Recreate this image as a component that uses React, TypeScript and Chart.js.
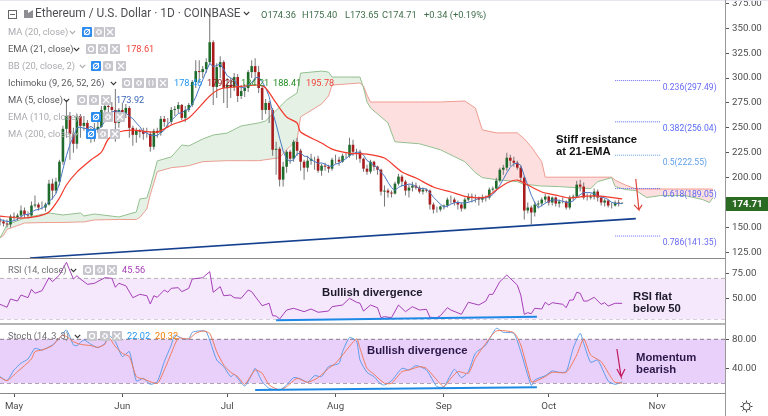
import React, { useEffect, useRef } from "react";
import { Chart, registerables } from "chart.js";

Chart.register(...registerables);

// ---------- data ----------
const firstDay = -4; // day 0 = May 1
const opens = [157,156,154,153,161,160,162,167,163,162,172,173,170,170,173,194,187,196,216,249,262,244,234,262,252,255,244,245,248,251,268,272,271,268,255,268,265,270,250,243,247,246,244,244,231,247,245,259,256,256,268,269,273,260,268,273,296,307,306,309,316,336,291,311,316,290,293,291,301,282,287,290,306,312,306,290,268,275,268,228,229,198,211,226,219,236,227,216,210,217,219,219,207,212,211,209,218,218,216,222,222,233,226,226,219,209,206,216,211,208,186,187,185,184,194,201,196,187,190,192,190,186,188,187,173,168,168,171,172,178,178,175,173,169,178,181,180,180,178,180,180,188,189,197,208,210,220,217,215,210,200,167,170,165,173,174,178,181,175,180,174,176,176,170,180,181,193,191,180,180,181,186,180,175,177,172,172,175,174.36];
const highs = [160,158,158,163,165,164,172,170,166,176,182,175,176,175,198,199,200,218,252,278,266,250,264,264,262,258,250,255,256,272,275,278,276,289,270,275,274,272,252,250,249,250,250,246,249,250,262,262,260,271,272,276,274,272,275,298,318,318,312,320,364,338,315,322,318,300,300,305,304,293,294,308,318,320,312,292,279,277,270,236,231,216,228,228,238,240,229,218,222,224,221,222,214,215,213,220,223,221,224,225,240,238,229,228,220,213,218,217,212,209,192,189,187,196,204,203,198,193,196,195,192,190,189,188,175,171,172,173,180,182,180,177,175,180,184,184,183,181,183,182,190,191,200,210,213,225,223,221,217,212,202,175,172,176,177,180,184,182,181,181,178,180,177,182,183,197,198,195,184,184,189,188,181,179,178,175,177,178,175.4];
const lows = [152,151,150,150,157,157,160,160,159,161,170,167,168,166,172,178,184,192,213,240,218,225,229,240,247,240,235,236,245,250,262,265,262,236,250,262,260,240,232,235,240,238,240,226,228,240,242,251,250,253,262,265,258,256,266,271,290,295,300,305,313,273,280,300,275,270,280,287,276,279,281,286,300,298,285,258,264,255,222,203,191,191,205,214,216,222,207,198,206,213,208,205,202,207,205,207,214,212,215,219,220,222,218,215,206,203,204,207,203,182,171,180,180,183,192,191,182,180,186,188,184,183,185,168,164,165,166,168,170,174,172,168,166,168,176,175,175,172,175,176,178,186,188,195,203,207,212,211,208,196,158,164,153,161,169,171,175,172,172,171,170,174,168,168,177,180,186,178,177,178,178,176,172,171,170,169,171,171,173.65];
const closes = [156,154,153,161,160,162,167,163,162,172,173,170,170,173,194,187,196,216,249,262,244,234,262,252,255,244,245,248,251,268,272,271,268,255,268,265,270,250,243,247,246,244,244,231,247,245,259,256,256,268,269,273,260,268,273,296,307,306,309,316,336,291,311,316,290,293,291,301,282,287,290,306,312,306,290,268,275,268,228,229,198,211,226,219,236,227,216,210,217,219,219,207,212,211,209,218,218,216,222,222,233,226,226,219,209,206,216,211,208,186,187,185,184,194,201,196,187,190,192,190,186,188,187,173,168,168,171,172,178,178,175,173,169,178,181,180,180,178,180,180,188,189,197,208,210,220,217,215,210,200,167,170,165,173,174,178,181,175,180,174,176,176,170,180,181,193,191,180,180,181,186,180,175,177,172,172,175,174,174.71];

const ma5 = [158,157,156,156,156.8,158,160.6,163.2,162.8,165.2,167.4,168,169.4,171.6,176,179.2,184,194,208.4,222,233.4,241,250.2,250.8,249.4,249.4,251.6,248.8,248.6,251.2,256.8,262,266,266.8,266.8,265.4,265.2,261.6,259.2,255,251.2,246,244.8,242.4,242.4,242.2,245.2,247.6,253.8,257.2,261,264.4,265.2,267.6,268.6,274,280.8,290,298.2,306.8,314.8,311.6,312.6,314,308.8,302.2,300.2,298.2,291.4,290.8,290.2,293.2,295.4,300.2,301,296.4,290.2,281.4,265.8,253.6,239.6,226.8,218.4,216.6,218,223.8,224.8,221.6,221.2,217.8,216.2,214.4,214.8,213.6,211.6,211.4,213.6,214.4,216.6,219.2,222.2,223.8,225.8,225.2,222.6,217.2,215.2,212.2,210,205.4,201.6,195.4,190,187.2,190.2,192,192.4,193.6,193.2,191,189,189.2,188.6,184.8,180.4,176.8,173.4,170.4,171.4,173.4,174.8,175.2,174.6,174.6,175.2,176.2,177.6,179.4,179.8,179.6,181.2,183,186.8,192.4,198.4,204.8,210.4,214,214.4,212.4,201.8,192.4,182.4,175,169.8,172,174.2,176.2,177.6,177.6,177.2,176.2,175.2,175.2,176.6,180,183,185,185,185,183.6,181.4,180.4,179.8,178,175.2,174.2,174,173.92];

const emaDays = [-4,2,7,10,13,15,18,22,25,27,30,34,41,45,50,56,59,63,70,72,75,78,81,82,88,91,96,101,106,111,115,120,125,130,135,138,141,144,147,151,155,159,164,168,174];
const ema21 = [161.4,159.4,161.4,165.5,179.5,192.6,205.6,217.7,225.7,238.8,245.8,247.8,245.8,252.9,259.9,282,289,291,293,290,275,260.9,254.9,245.8,234.8,228.7,224.7,223.7,219.7,205.6,199.6,190.6,185.6,180.5,180.5,187.6,194.6,197.6,192.6,185.6,182.5,179.5,181.5,181.5,178.61];

const cloudDays = [-4,-3,-2,3,10,14,19,20,23,30,35,36,38,39,41,45,48,50,54,57,61,65,70,72,76,78,81,82,88,90,91,99,100,101,102,105,107,109,116,122,129,132,134,138,144,146,148,151,152,156,165,167,171,172,175,178,181,185,192,197,199,200];
const spanA = [139.5,146,152.5,159.5,164.5,162.5,164.5,161.5,163.5,160.5,165.5,178.6,179.6,190.6,216.8,220.8,232.8,231.8,238.8,242.8,244.8,251.9,254.9,256.9,271,278,285,305,307,306,301,301,290,276,270,261,255,236,234,228,216,205,200,198,196,193,192.7,191.5,191.5,191,189,196,200,191,188,187,180,182,182,178,175,180];
const spanB = [139.5,142,148,154.4,155,155,155.5,155.5,157.5,158,158,160,168.5,183,206,210,211,212,216,216.5,217,217,217,218,220,228,238,261,274,282,293,295,292,283,276,276,276,276,276,276,277,270,248,245,245,239,231,216,200.5,200.5,200.5,200.5,200.5,197.5,192.5,188.6,188.6,188.6,188.6,188.6,188.6,188.6];

const fibRatios = ["0.236(297.49)", "0.382(256.04)", "0.5(222.55)", "0.618(189.05)", "0.786(141.35)"];
const fibLevels = [297.49, 256.04, 222.55, 189.05, 141.35];
const fibColors = ["#6a6af5", "#5a6af5", "#5f9fe8", "#5a6af5", "#6a6af5"];
const fibStartDay = 172;
const fibEndDay = 185;

const trendDays = [4.6, 177.9];
const trendValues = [119.3, 158.8];
const arrowDays = [177.9, 178.8, 177.4, 178.8, 179.7];
const arrowValues = [198.7, 167.6, 172.6, 167.6, 172.6];

const rsiDays = [-4,-2,-1,1,2,4,5,6,8,10,11,13,15,17,18,19,21,23,26,28,29,30,32,34,36,38,39,40,41,43,44,45,47,48,50,51,54,56,57,59,60,62,63,65,67,68,71,73,74,75,76,78,80,83,85,87,90,91,94,96,98,99,100,102,104,105,106,108,110,112,114,116,118,119,121,122,124,125,128,130,133,135,136,137,139,141,144,145,146,147,148,149,151,152,153,154,157,158,159,160,161,162,163,164,166,168,169,170,172,174];
const rsiValues = [44.6,41.7,49.8,47.8,53.7,51.1,59.3,55.4,57.9,70.7,66.8,73.3,85.8,69.4,72.6,69.4,64.2,65.2,70.7,70.1,61.3,65.2,62.8,51.1,54.4,53,44.9,53,51.5,58.6,56.4,60.3,60.9,57,60.3,69.4,70.7,76.6,56.4,61.9,53,53.7,51.1,50.5,58.6,57,43.2,45.6,33.4,33.1,30.2,39,40.7,37.4,40,36.8,38,42.3,43.9,50.5,46.6,45.6,38,43.9,41.3,31.5,32.5,31.5,43.9,37.4,42.3,39,39.7,31.9,31.5,33.4,41.3,39,34.8,46.6,43.9,47.8,54.4,54.4,66.8,73.3,63.5,53.7,34.8,36.4,35.4,40.7,40,46.6,43.9,46.2,44.6,41.3,48.8,48.8,56.4,55.4,47.8,47.8,51.5,44.6,46.2,42.9,45.6,45.56];
const rsiLineDays = [75, 149.6];
const rsiLineValues = [28.9, 32.5];

const stochKDays = [-4,-2,0,2,4,5,6,8,11,13,15,17,18,20,22,24,26,27,29,31,33,35,37,39,41,43,45,46,48,50,51,53,55,58,60,62,63,66,68,69,71,73,76,78,80,82,84,86,88,90,93,94,96,98,99,101,103,105,106,108,111,113,115,118,121,123,126,128,130,132,135,138,140,143,145,148,149,152,154,156,158,160,162,163,165,167,170,172,174];
const stochK = [29.1,23.6,38.2,47.3,53.2,60.9,67.7,65.4,72.3,81.4,92.7,72.3,71.4,79.1,73.2,68.6,74.5,85.9,76.8,56.4,63.2,23.2,26.8,18.6,22.3,49.5,72.3,85.9,81.4,80.5,89.5,91.4,90.5,51.8,42.7,29.1,32.3,16.3,31.3,40.4,22.3,13.2,10.9,17.7,27.7,25.9,21.3,30.4,29.1,42.7,47.3,63.2,82.3,77.7,51.8,35,29.1,18.6,17.7,23.2,40.4,38.2,44.1,38.2,15.4,15.4,39.1,27.7,35.9,60.9,72.3,95,89.5,88.2,63.2,16.8,24.5,30.4,36.8,35,35.9,67.7,88.2,74.5,48.6,51.8,23.2,18.6,22.02];
const stochDDays = [-4,-2,1,3,5,6,8,11,14,17,19,22,24,26,27,29,31,33,35,37,41,43,45,47,50,52,54,56,58,60,62,64,66,69,71,73,76,78,81,84,87,90,92,94,98,99,101,103,106,108,111,113,116,118,121,123,125,127,130,132,135,138,143,145,148,149,152,154,158,161,163,165,168,171,172,174];
const stochD = [28.2,23.6,35.9,44.1,53.2,63.2,65.4,71.4,85.9,76.8,73.2,71.4,69.1,73.2,83.6,70,60.9,56.4,29.1,25.9,20,38.2,60.9,81.4,80.5,88.2,91.4,88.2,63.2,45,35,29.1,18.6,38.2,33.6,17.7,10.9,15.4,26.8,21.3,27.7,40.4,47.3,58.6,80.5,67.7,40.4,32.3,20,20,35.9,38.2,42.7,40.4,24.5,15.4,26.8,35.9,33.6,54.1,74.5,91.4,89.1,72.3,22.3,22.3,29.1,35,35,58.6,80.5,58.6,49.5,26.8,21.3,20.32];
const stochLineDays = [69, 149.6];
const stochLineValues = [10.8, 14.5];
const stochArrowDays = [172.5, 173.7, 172.5, 173.7, 174.8];
const stochArrowValues = [66.8, 29, 39.5, 29, 39.5];

const priceTicks = [125, 150, 175, 200, 225, 250, 275, 300, 325, 350, 375];
const rsiTicks = [50, 75];
const stochTicks = [40, 80];
const monthDays = [0, 31, 61, 92, 123, 153, 184];
const monthNames = ["May", "Jun", "Jul", "Aug", "Sep", "Oct", "Nov"];

const ohlcText = ["O174.36", "H175.40", "L173.65", "C174.71", "+0.34 (+0.19%)"];

// ---------- layout helpers ----------
const xMin = -4.006;
const xMax = 203.43;
const axisFont = "Roboto, sans-serif";
const pts = (xs: number[], ys: number[]) => xs.map((x, i) => ({ x, y: ys[i] }));
const lineDs = (data: any[], color: string, width = 1, extra: any = {}) => ({
  type: "line" as const,
  data,
  borderColor: color,
  borderWidth: width,
  pointRadius: 0,
  fill: false,
  tension: 0,
  ...extra,
});

function baseOptions(min: number, max: number, ticks: number[], showX: boolean): any {
  return {
    responsive: false,
    animation: false,
    events: [],
    layout: { padding: 0 },
    plugins: { legend: { display: false }, tooltip: { enabled: false } },
    scales: {
      x: {
        type: "linear",
        min: xMin,
        max: xMax,
        offset: false,
        display: showX,
        position: "bottom",
        border: { display: false },
        grid: { drawOnChartArea: false, tickLength: 3, color: "#555", offset: false },
        afterBuildTicks: (s: any) => {
          s.ticks = monthDays.map((value) => ({ value }));
        },
        afterFit: (s: any) => {
          s.height = showX ? 22 : 0;
          s.paddingLeft = 0;
          s.paddingRight = 0;
        },
        ticks: {
          autoSkip: false,
          maxRotation: 0,
          color: "#4d4d4d",
          font: { family: axisFont, size: 9.7 },
          padding: 4,
          callback: (v: number) => monthNames[monthDays.indexOf(v)] ?? "",
        },
      },
      y: {
        type: "linear",
        position: "right",
        min,
        max,
        border: { display: false },
        grid: { drawOnChartArea: false, tickLength: 4, color: "#555" },
        afterBuildTicks: (s: any) => {
          s.ticks = ticks.map((value) => ({ value }));
        },
        afterFit: (s: any) => {
          s.width = 43;
          s.paddingTop = 0;
          s.paddingBottom = 0;
        },
        ticks: {
          color: "#4d4d4d",
          font: { family: axisFont, size: 9.7 },
          padding: 3,
          crossAlign: "near",
          callback: (v: number) => v.toFixed(2),
        },
      },
    },
  };
}

function priceConfig(): any {
  const days = closes.map((_, i) => firstDay + i);
  const colors = closes.map((c, i) => (c >= opens[i] ? "#1e6b2c" : "#a91c1c"));
  const fibDs = fibLevels.map((level, i) =>
    lineDs(pts([fibStartDay, fibEndDay], [level, level]), fibColors[i], 1, { borderDash: [1, 1], order: 1 })
  );
  return {
    type: "bar",
    data: {
      datasets: [
        lineDs(pts(cloudDays, spanA), "#93c08e", 1, {
          order: 10,
          fill: { target: 1, above: "rgba(76,153,76,0.14)", below: "rgba(250,80,80,0.18)" },
        }),
        lineDs(pts(cloudDays, spanB), "#f3a198", 1, { order: 10 }),
        {
          type: "bar",
          data: days.map((x, i) => ({ x, y: [lows[i], highs[i]] })),
          backgroundColor: "#767676",
          barThickness: 1,
          grouped: false,
          inflateAmount: 0,
          order: 9,
        },
        {
          type: "bar",
          data: days.map((x, i) => ({ x, y: [opens[i], closes[i]] })),
          backgroundColor: colors,
          barThickness: 2.6,
          grouped: false,
          inflateAmount: 0,
          order: 8,
        },
        lineDs(pts(days, ma5), "#4a79c4", 1, { order: 3 }),
        lineDs(pts(emaDays, ema21), "#f2392c", 1.2, { order: 2, tension: 0.25 }),
        lineDs(pts(trendDays, trendValues), "#14408f", 1.6, { order: 1 }),
        lineDs(pts(arrowDays, arrowValues), "#e2453c", 1.2, { order: 1 }),
        ...fibDs,
      ],
    },
    options: baseOptions(119.3, 378.4, priceTicks, false),
  };
}

function rsiConfig(): any {
  const edges = [xMin, xMax];
  return {
    type: "line",
    data: {
      datasets: [
        lineDs(pts(edges, [70, 70]), "#b9b3ba", 1, {
          borderDash: [4, 3],
          order: 10,
          fill: { target: 1, above: "#f5e8fd", below: "#f5e8fd" },
        }),
        lineDs(pts(edges, [30, 30]), "#b9b3ba", 1, { borderDash: [4, 3], order: 10 }),
        lineDs(pts(rsiDays, rsiValues), "#a640b8", 1, { order: 2 }),
        lineDs(pts(rsiLineDays, rsiLineValues), "#1e88e5", 2, { order: 1 }),
      ],
    },
    options: baseOptions(25.3, 90, rsiTicks, false),
  };
}

function stochConfig(): any {
  const edges = [xMin, xMax];
  return {
    type: "line",
    data: {
      datasets: [
        lineDs(pts(edges, [80, 80]), "#857a88", 1, {
          borderDash: [4, 3],
          order: 10,
          fill: { target: 1, above: "#e9d0fb", below: "#e9d0fb" },
        }),
        lineDs(pts(edges, [20, 20]), "#857a88", 1, { borderDash: [4, 3], order: 10 }),
        lineDs(pts(stochKDays, stochK), "#5c9dea", 1, { order: 3, tension: 0.2 }),
        lineDs(pts(stochDDays, stochD), "#ef7a5c", 1, { order: 2, tension: 0.2 }),
        lineDs(pts(stochLineDays, stochLineValues), "#1e88e5", 2, { order: 1 }),
        lineDs(pts(stochArrowDays, stochArrowValues), "#c2185b", 1.2, { order: 1 }),
      ],
    },
    options: baseOptions(5.4, 100.9, stochTicks, true),
  };
}

// ---------- DOM overlays ----------
function Txt(p: { x: number; y: number; c: string; s?: number; w?: number; f?: string; children: React.ReactNode }) {
  return (
    <div
      style={{
        position: "absolute",
        left: p.x,
        top: p.y,
        transform: "translateY(-50%)",
        color: p.c,
        fontSize: p.s ?? 9.2,
        fontWeight: p.w ?? 400,
        fontFamily: p.f ?? axisFont,
        lineHeight: 1,
        whiteSpace: "nowrap",
      }}
    >
      {p.children}
    </div>
  );
}

function Box(p: { x: number; y: number; on?: boolean; kind: "eye" | "gear" | "x" | "code" }) {
  const bg = p.on ? "#2d8cf0" : "#c6c6cc";
  return (
    <svg
      width={10}
      height={10}
      viewBox="0 0 10 10"
      style={{ position: "absolute", left: p.x, top: p.y - 5, background: bg, borderRadius: 1 }}
    >
      {p.kind === "x" && <path d="M2 2L8 8M8 2L2 8" stroke="#fff" strokeWidth={1.2} />}
      {p.kind === "gear" && <circle cx={5} cy={5} r={2.2} fill="none" stroke="#fff" strokeWidth={1.5} strokeDasharray="2 0.6" />}
      {p.kind === "eye" && <circle cx={5} cy={5} r={2.6} fill="none" stroke="#fff" strokeWidth={1.2} />}
      {p.kind === "eye" && p.on && <path d="M2 8L8 2" stroke="#fff" strokeWidth={1} />}
      {p.kind === "code" && <path d="M4 2.2Q2.8 2.2 3 5Q2.8 7.8 4 7.8M6 2.2Q7.2 2.2 7 5Q7.2 7.8 6 7.8" fill="none" stroke="#fff" strokeWidth={1} />}
    </svg>
  );
}

function Chev(p: { x: number; y: number; c?: string }) {
  return (
    <svg width={7} height={5} viewBox="0 0 7 5" style={{ position: "absolute", left: p.x, top: p.y - 2 }}>
      <path d="M0.8 0.8L3.5 3.6L6.2 0.8" fill="none" stroke={p.c ?? "#333"} strokeWidth={1.1} />
    </svg>
  );
}

const Row = (p: { y: number; label: string; dim?: boolean; chev: number; boxes: number[]; on?: boolean; dy?: number }) => (
  <>
    <Txt x={8} y={p.y} c={p.dim ? "#ababb0" : "#5a5a5e"} s={9.4}>
      {p.label}
    </Txt>
    <Chev x={p.chev} y={p.y} c={p.dim ? "#aaa" : "#333"} />
    {p.boxes.map((bx, i) => (
      <Box
        key={i}
        x={bx}
        y={p.y}
        on={p.on && i === 0}
        kind={p.boxes.length === 4 ? (["eye", "gear", "code", "x"] as const)[i] : (["eye", "gear", "x"] as const)[i]}
      />
    ))}
  </>
);

const Sep = (p: { y: number; c: string; h?: number }) => (
  <div style={{ position: "absolute", left: 0, top: p.y, width: 725, height: p.h ?? 1, background: p.c }} />
);

const boldFont = '"Liberation Sans", Arial, sans-serif';

export default function App() {
  const a = useRef<HTMLCanvasElement>(null);
  const b = useRef<HTMLCanvasElement>(null);
  const c = useRef<HTMLCanvasElement>(null);
  useEffect(() => {
    const charts = [
      new Chart(a.current!, priceConfig()),
      new Chart(b.current!, rsiConfig()),
      new Chart(c.current!, stochConfig()),
    ];
    return () => charts.forEach((ch) => ch.destroy());
  }, []);
  const canvasStyle = (top: number): React.CSSProperties => ({ position: "absolute", left: 0, top, display: "block" });
  return (
    <div style={{ position: "fixed", left: 0, top: 0, width: 768, height: 416, background: "#fff", overflow: "hidden" }}>
      <canvas ref={a} width={768} height={258} style={canvasStyle(0)} />
      <canvas ref={b} width={768} height={66} style={canvasStyle(258)} />
      <canvas ref={c} width={768} height={92} style={canvasStyle(324)} />

      <div style={{ position: "absolute", left: 0, top: 0, width: 768, height: 1, background: "#e6e6f0" }} />
      <Sep y={258} c="#8a8a8a" />
      <Sep y={323} c="#b5b5b5" h={2} />
      <Sep y={393} c="#8a8a8a" />
      <div style={{ position: "absolute", left: 724.5, top: 0, width: 1.5, height: 416, background: "#9a9a9a" }} />

      {/* header */}
      <svg width={9} height={9} viewBox="0 0 9 9" style={{ position: "absolute", left: 8, top: 9.5 }}>
        <rect x={0.5} y={0.5} width={8} height={8} fill="none" stroke="#666" />
        <path d="M2 4.5H7" stroke="#666" />
      </svg>
      <svg width={9} height={8} viewBox="0 0 9 8" style={{ position: "absolute", left: 24, top: 10 }}>
        <path d="M0 0H4V8H0ZM4 3L9 0V8H4Z" fill="#8d8d92" />
      </svg>
      <Txt x={35} y={14} c="#4f4f53" s={11.9}>
        Ethereum / U.S. Dollar · 1D · COINBASE
      </Txt>
      <Chev x={243} y={13} />
      {[261, 302, 345, 382, 424].map((x, i) => (
        <Txt key={i} x={x} y={15} c="#3e6e4a" s={9.3}>
          {ohlcText[i]}
        </Txt>
      ))}

      {/* indicator legend */}
      <Row y={32} label="MA (20, close)" dim chev={69} boxes={[82, 94, 105]} on />
      <Row y={48.7} label="EMA (21, close)" chev={73} boxes={[86, 98, 110]} />
      <Txt x={126} y={48.7} c="#f0433a">178.61</Txt>
      <Row y={66} label="BB (20, close, 2)" dim chev={79} boxes={[91, 103, 116]} on />
      <Row y={83} label="Ichimoku (9, 26, 52, 26)" chev={110} boxes={[122, 134, 146, 158]} />
      <Txt x={174} y={83} c="#2196f3">178.46</Txt>
      <Txt x={207} y={83} c="#8b1c1c">179.26</Txt>
      <Txt x={241} y={83} c="#2e8b2e">184.21</Txt>
      <Txt x={273} y={83} c="#1f8a1f">188.41</Txt>
      <Txt x={306} y={83} c="#f0433a">195.78</Txt>
      <Row y={100} label="MA (5, close)" chev={63} boxes={[77, 89, 101]} />
      <Txt x={116} y={100} c="#3a68b8">173.92</Txt>
      <Row y={117} label="EMA (110, close)" dim chev={75} boxes={[91, 103, 115]} on />
      <Row y={134} label="MA (200, close)" dim chev={72} boxes={[86, 98, 110]} on />

      {/* Fibonacci labels */}
      {fibRatios.map((t, i) => (
        <Txt key={t} x={662.7} y={[86.7, 128, 161.7, 194, 242.3][i]} c={fibColors[i]} s={8.6}>
          {t}
        </Txt>
      ))}

      {/* price tag */}
      <div style={{ position: "absolute", left: 726, top: 197, width: 42, height: 14, background: "#2a6a22" }} />
      <Txt x={732} y={204} c="#fff" s={9.7} w={700}>174.71</Txt>

      {/* annotations */}
      <Txt x={556} y={140} c="#111" s={11.3} w={700} f={boldFont}>Stiff resistance</Txt>
      <Txt x={556} y={151.5} c="#111" s={11.3} w={700} f={boldFont}>at 21-EMA</Txt>
      <Txt x={322} y={292.7} c="#1d1a2c" s={11.3} w={700} f={boldFont}>Bullish divergence</Txt>
      <Txt x={633} y={297} c="#1d1a2c" s={11.3} w={700} f={boldFont}>RSI flat</Txt>
      <Txt x={633} y={308.5} c="#1d1a2c" s={11.3} w={700} f={boldFont}>below 50</Txt>
      <Txt x={367} y={351} c="#2b1848" s={11.3} w={700} f={boldFont}>Bullish divergence</Txt>
      <Txt x={636} y={358} c="#2b1848" s={11.3} w={700} f={boldFont}>Momentum</Txt>
      <Txt x={636} y={369.5} c="#2b1848" s={11.3} w={700} f={boldFont}>bearish</Txt>

      {/* RSI legend */}
      <Txt x={8} y={270} c="#6f6f74">RSI (14, close)</Txt>
      <Chev x={70} y={270} />
      <Box x={83} y={270} kind="eye" />
      <Box x={95} y={270} kind="gear" />
      <Box x={107} y={270} kind="x" />
      <Txt x={122} y={270} c="#a640b8">45.56</Txt>

      {/* Stoch legend */}
      <Txt x={8} y={336} c="#6f6f74">Stoch (14, 3, 3)</Txt>
      <Chev x={74} y={336} />
      <Box x={87} y={336} kind="eye" />
      <Box x={100} y={336} kind="gear" />
      <Box x={112} y={336} kind="x" />
      <Txt x={127} y={336} c="#2196f3">22.02</Txt>
      <Txt x={155} y={336} c="#f57c00">20.32</Txt>

      {/* settings gear */}
      <svg width={13} height={13} viewBox="0 0 13 13" style={{ position: "absolute", left: 739.5, top: 400 }}>
        <circle cx={6.5} cy={6.5} r={3.6} fill="none" stroke="#444" strokeWidth={1} />
        <path d="M6.5 0.5V2.5M6.5 10.5V12.5M0.5 6.5H2.5M10.5 6.5H12.5M2.3 2.3L3.7 3.7M9.3 9.3L10.7 10.7M2.3 10.7L3.7 9.3M9.3 3.7L10.7 2.3" stroke="#444" strokeWidth={1} />
      </svg>
    </div>
  );
}
